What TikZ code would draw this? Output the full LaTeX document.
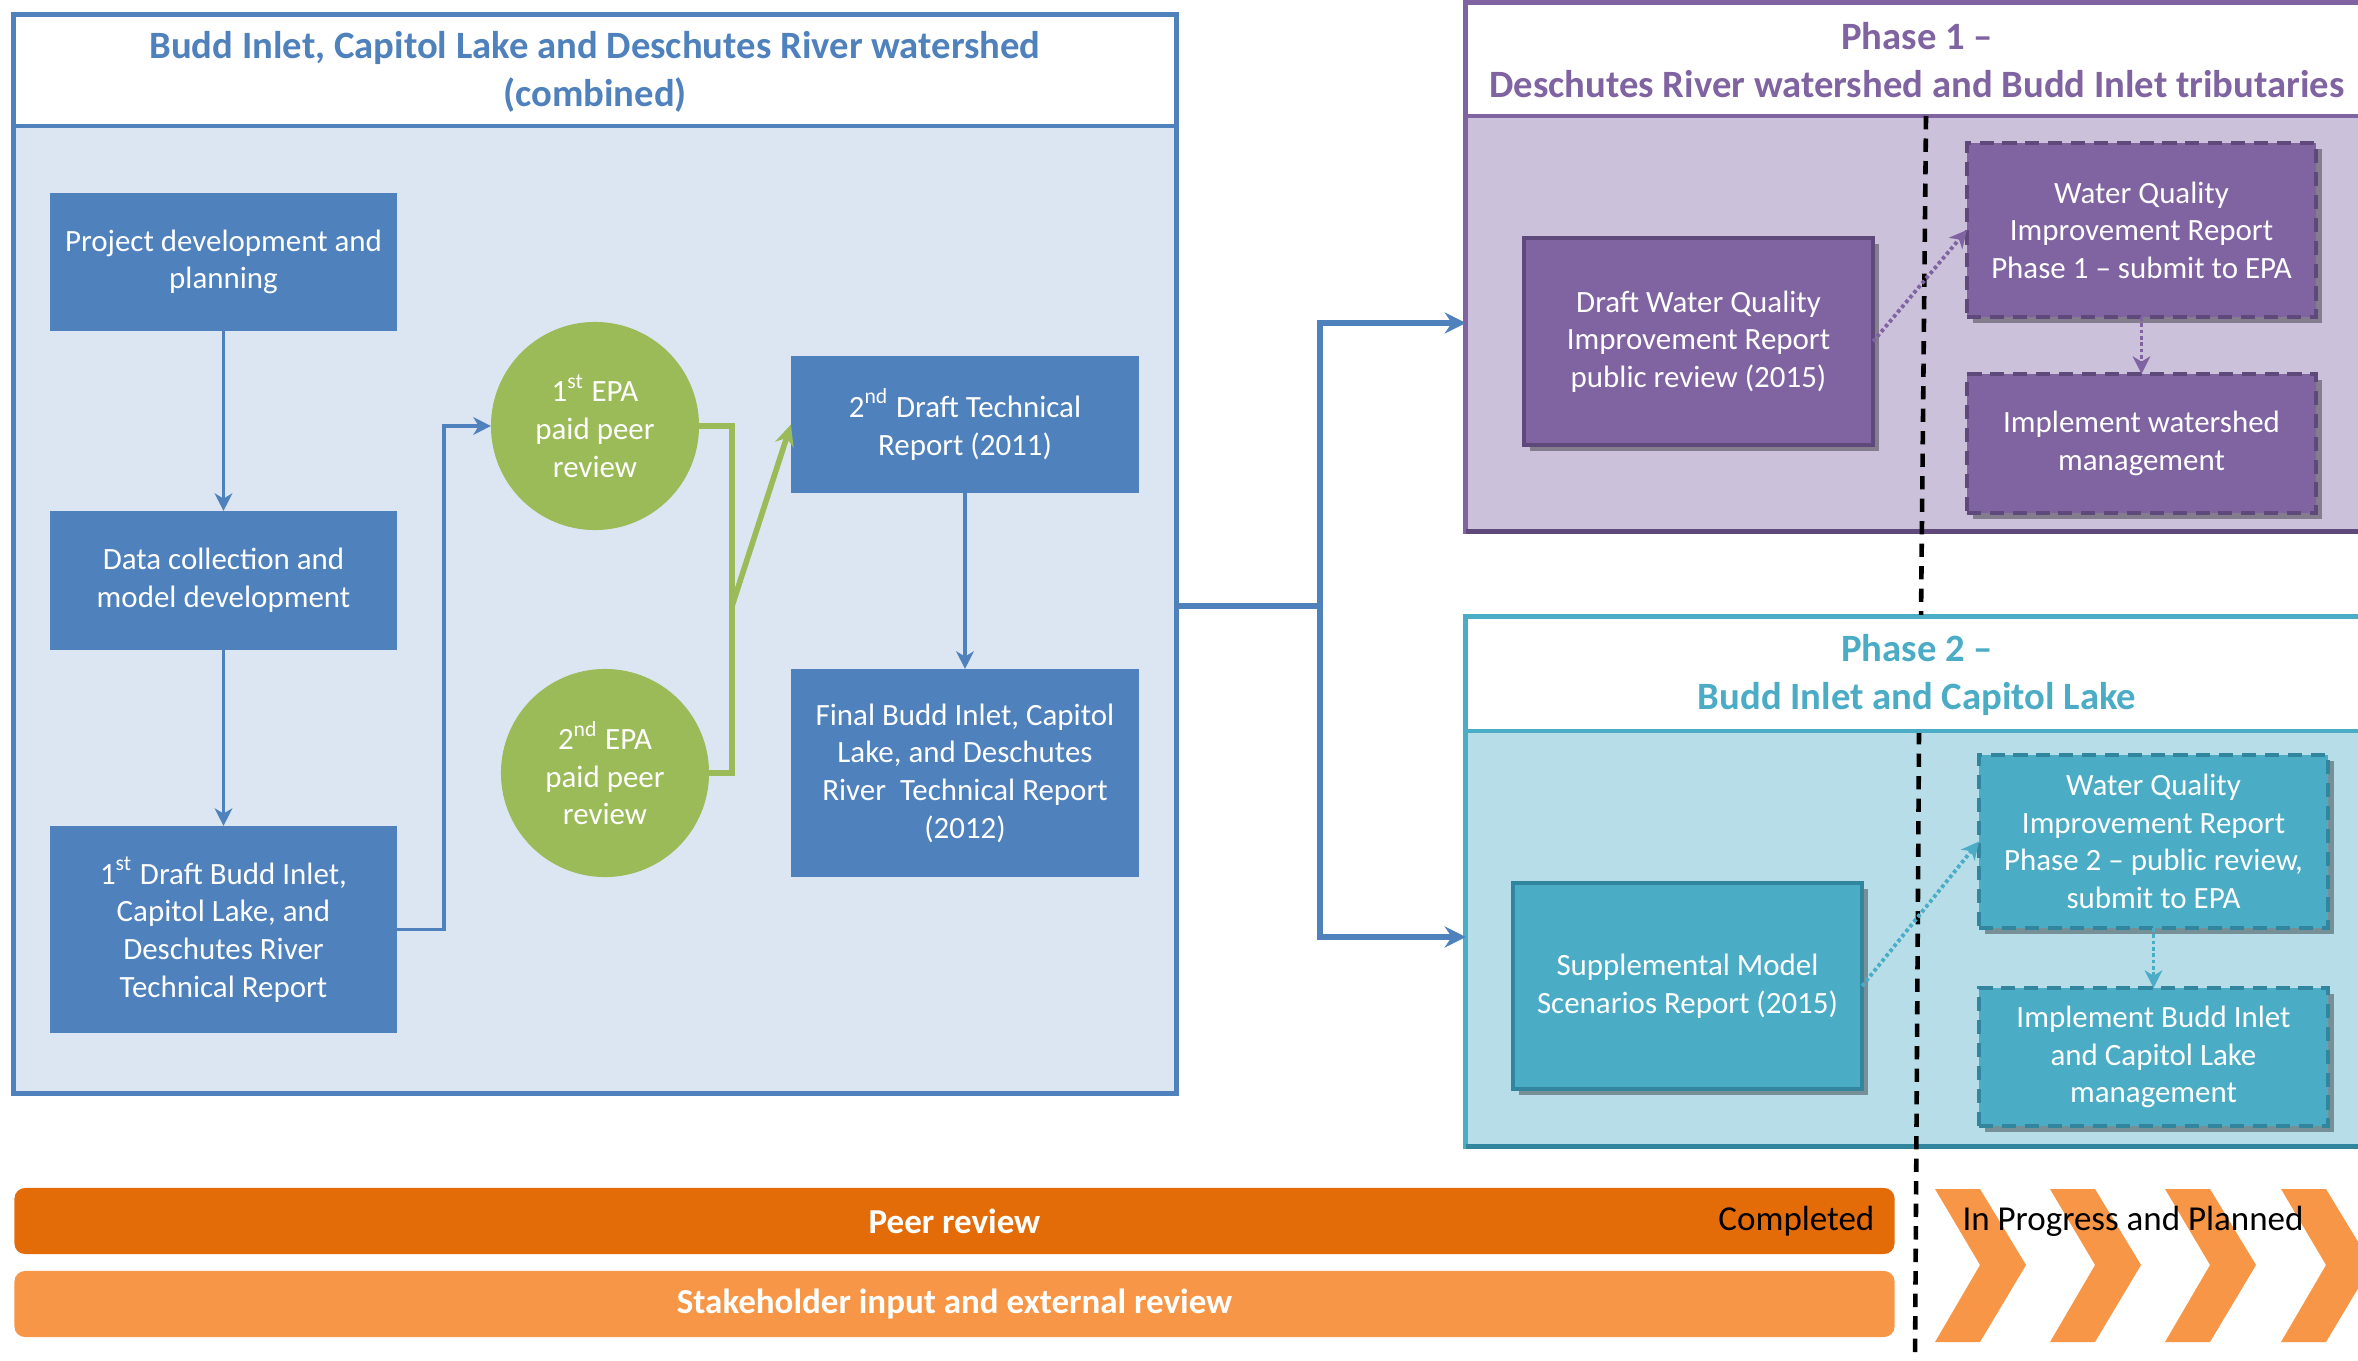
\documentclass[tikz,border=0pt]{standalone}
\usepackage{fontspec}
\setmainfont{Carlito}
\usetikzlibrary{arrows.meta,shadows}
\definecolor{bblue}{HTML}{4F81BD}
\definecolor{lblue}{HTML}{DCE6F2}
\definecolor{bgreen}{HTML}{9BBB59}
\definecolor{purp}{HTML}{8064A2}
\definecolor{dpurp}{HTML}{5F497A}
\definecolor{lpurp}{HTML}{CCC1DA}
\definecolor{cteal}{HTML}{4BACC6}
\definecolor{dteal}{HTML}{31859C}
\definecolor{lteal}{HTML}{B7DEE8}
\definecolor{dorange}{HTML}{E36C09}
\definecolor{lorange}{HTML}{F79646}
\begin{document}
\begin{tikzpicture}[x=0.01cm,y=-0.01cm,
  boxtxt/.style={font=\fontsize{8.8}{10.7}\selectfont, text=white, align=center, inner sep=0pt, outer sep=0pt},
  bbox/.style={boxtxt, rectangle, fill=bblue, minimum width=3.47cm},
  gcirc/.style={boxtxt, circle, fill=bgreen, minimum size=2.08cm},
  pshadow/.style={drop shadow={shadow xshift=1.6pt, shadow yshift=-1.6pt, opacity=0.35, fill=black}},
  psolid/.style 2 args={boxtxt, rectangle, pshadow, fill=#1, draw=#2, line width=1.2pt, minimum width=3.49cm},
  pdash/.style 2 args={boxtxt, rectangle, pshadow, fill=#1, draw=#2, line width=1.2pt, dash pattern=on 4pt off 2.5pt, minimum width=3.49cm},
  frame/.style={rectangle, inner sep=0pt, outer sep=0pt, line width=1.4pt},
  ttl/.style={font=\bfseries\fontsize{11}{13.5}\selectfont, align=center, inner sep=0pt},
  barrow/.style={draw=bblue, line width=1.1pt, -{Stealth[length=5pt, width=5pt, inset=1.5pt]}},
  bigline/.style={draw=bblue, line width=1.7pt},
  bigarrow/.style={bigline, line join=miter, -{Stealth[length=6pt, width=6pt, inset=2pt]}},
  gline/.style={draw=bgreen, line width=1.6pt},
  garrow/.style={gline, -{Stealth[length=6pt, width=5.5pt, inset=2pt]}},
  dotarrow/.style={draw=#1, line width=1.1pt, dash pattern=on 1pt off 0.8pt, -{Stealth[length=5pt, width=5pt, inset=1.5pt]}},
  dline/.style={draw=black, line width=1.3pt, dash pattern=on 3.8pt off 2.6pt},
  bar/.style={rectangle, rounded corners=3pt, minimum width=18.79cm, minimum height=0.66cm, inner sep=0pt, text=white, font=\bfseries\fontsize{9.95}{11}\selectfont},
  bartxt/.style={font=\fontsize{9.95}{11}\selectfont, text=black, inner sep=0pt}
]
\useasboundingbox (0,0) rectangle (2358,1361);
\clip (0,0) rectangle (2358,1361);

% ---------- left frame ----------
\node[frame, draw=bblue, fill=lblue, minimum width=11.62cm, minimum height=10.78cm] (Lframe) at (595,554) {};
\node[frame, draw=bblue, fill=white, minimum width=11.62cm, minimum height=1.11cm] (Lhead) at (595,70.5) {};
\node[ttl, text=bblue] (ltitle) at (595,72) {Budd Inlet, Capitol Lake and Deschutes River watershed\\(combined)};

\node[bbox, minimum height=1.38cm] (proj) at (223.5,262) {Project development and\\planning};
\node[bbox, minimum height=1.39cm] (data) at (223.5,580.5) {Data collection and\\model development};
\node[bbox, minimum height=2.07cm] (draft1) at (223.5,929.5) {1\textsuperscript{st} Draft Budd Inlet,\\Capitol Lake, and\\Deschutes River\\Technical Report};
\node[gcirc] (epa1) at (595,426) {1\textsuperscript{st} EPA\\paid peer\\review};
\node[gcirc] (epa2) at (605,773) {2\textsuperscript{nd} EPA\\paid peer\\review};
\node[bbox, minimum width=3.48cm, minimum height=1.37cm] (draft2) at (965,424.5) {2\textsuperscript{nd} Draft Technical\\Report (2011)};
\node[bbox, minimum width=3.48cm, minimum height=2.08cm] (final) at (965,773) {Final Budd Inlet, Capitol\\Lake, and Deschutes\\River\ \ Technical Report\\(2012)};

\draw[barrow] (proj) -- (data);
\draw[barrow] (data) -- (draft1);
\draw[barrow] (draft1.east) -- ++(47,0) |- (epa1.west);
\coordinate (gj) at (732,606);
\draw[gline] (epa1.east) -| (gj) |- (epa2.east);
\draw[garrow] (gj) -- (draft2.west);
\draw[barrow] (draft2) -- (final);

% ---------- phase 1 ----------
\node[frame, draw=purp, fill=lpurp, minimum width=9.04cm, minimum height=5.28cm] (P1frame) at (1918,267) {};
\draw[dpurp, line width=1.4pt] (P1frame.south west) -- (P1frame.south east);
\node[frame, draw=purp, fill=white, minimum width=9.04cm, minimum height=1.13cm] (P1head) at (1918,59.5) {};
\node[ttl, text=purp] (p1title) at (1917,60) {Phase 1 –\\Deschutes River watershed and Budd Inlet tributaries};

% ---------- phase 2 ----------
\node[frame, draw=cteal, fill=lteal, minimum width=9.04cm, minimum height=5.29cm] (P2frame) at (1918,881.5) {};
\draw[dteal, line width=1.4pt] (P2frame.south west) -- (P2frame.south east);

% dashed divider
\draw[dline] (1926,116) -- (1921,617);
\draw[dline] (1919,731) -- (1915,1361);

\node[frame, draw=cteal, fill=white, minimum width=9.04cm, minimum height=1.14cm] (P2head) at (1918,674) {};
\node[ttl, text=cteal] (p2title) at (1917,675) {Phase 2 –\\Budd Inlet and Capitol Lake};

\node[psolid={purp}{dpurp}, minimum height=2.07cm] (p1draft) at (1698.5,341.5) {Draft Water Quality\\Improvement Report\\public review (2015)};
\node[pdash={purp}{dpurp}, minimum height=1.74cm] (p1wq) at (2141.5,230) {Water Quality\\Improvement Report\\Phase 1 – submit to EPA};
\node[pdash={purp}{dpurp}, minimum height=1.39cm] (p1impl) at (2141.5,443.5) {Implement watershed\\management};
\draw[dotarrow=purp] (p1draft.east) -- (p1wq.west);
\draw[dotarrow=purp] (p1wq.south) -- (p1impl.north);

\node[psolid={cteal}{dteal}, minimum height=2.06cm] (p2supp) at (1687.5,986) {Supplemental Model\\Scenarios Report (2015)};
\node[pdash={cteal}{dteal}, minimum height=1.73cm] (p2wq) at (2153.5,841.5) {Water Quality\\Improvement Report\\Phase 2 – public review,\\submit to EPA};
\node[pdash={cteal}{dteal}, minimum height=1.38cm] (p2impl) at (2153.5,1057) {Implement Budd Inlet\\and Capitol Lake\\management};
\draw[dotarrow=cteal] (p2supp.east) -- (p2wq.west);
\draw[dotarrow=cteal] (p2wq.south) -- (p2impl.north);

% ---------- big connector ----------
\coordinate (bjm) at (1320,606);
\coordinate (bj1) at (1320,323);
\coordinate (bj2) at (1320,937);
\draw[bigline] (Lframe.east |- bjm) -- (bjm);
\draw[bigarrow] (bjm) -- (bj1) -- (P1frame.west |- bj1);
\draw[bigarrow] (bjm) -- (bj2) -- (P2frame.west |- bj2);

% ---------- bottom bars ----------
\node[bar, fill=dorange] (peer) at (954.5,1221) {Peer review};
\node[bar, fill=lorange] (stake) at (954.5,1304) {Stakeholder input and external review};
\node[bartxt, anchor=east] (compl) at (1875,1221) {Completed};

\foreach \L in {1935,2050,2165,2281}{
  \fill[lorange] (\L,1189) -- ++(45,0) -- ++(46,76) -- ++(-46,77) -- ++(-45,0) -- ++(45,-77) -- cycle;
}
\node[bartxt] (prog) at (2133,1221) {In Progress and Planned};
\end{tikzpicture}
\end{document}
